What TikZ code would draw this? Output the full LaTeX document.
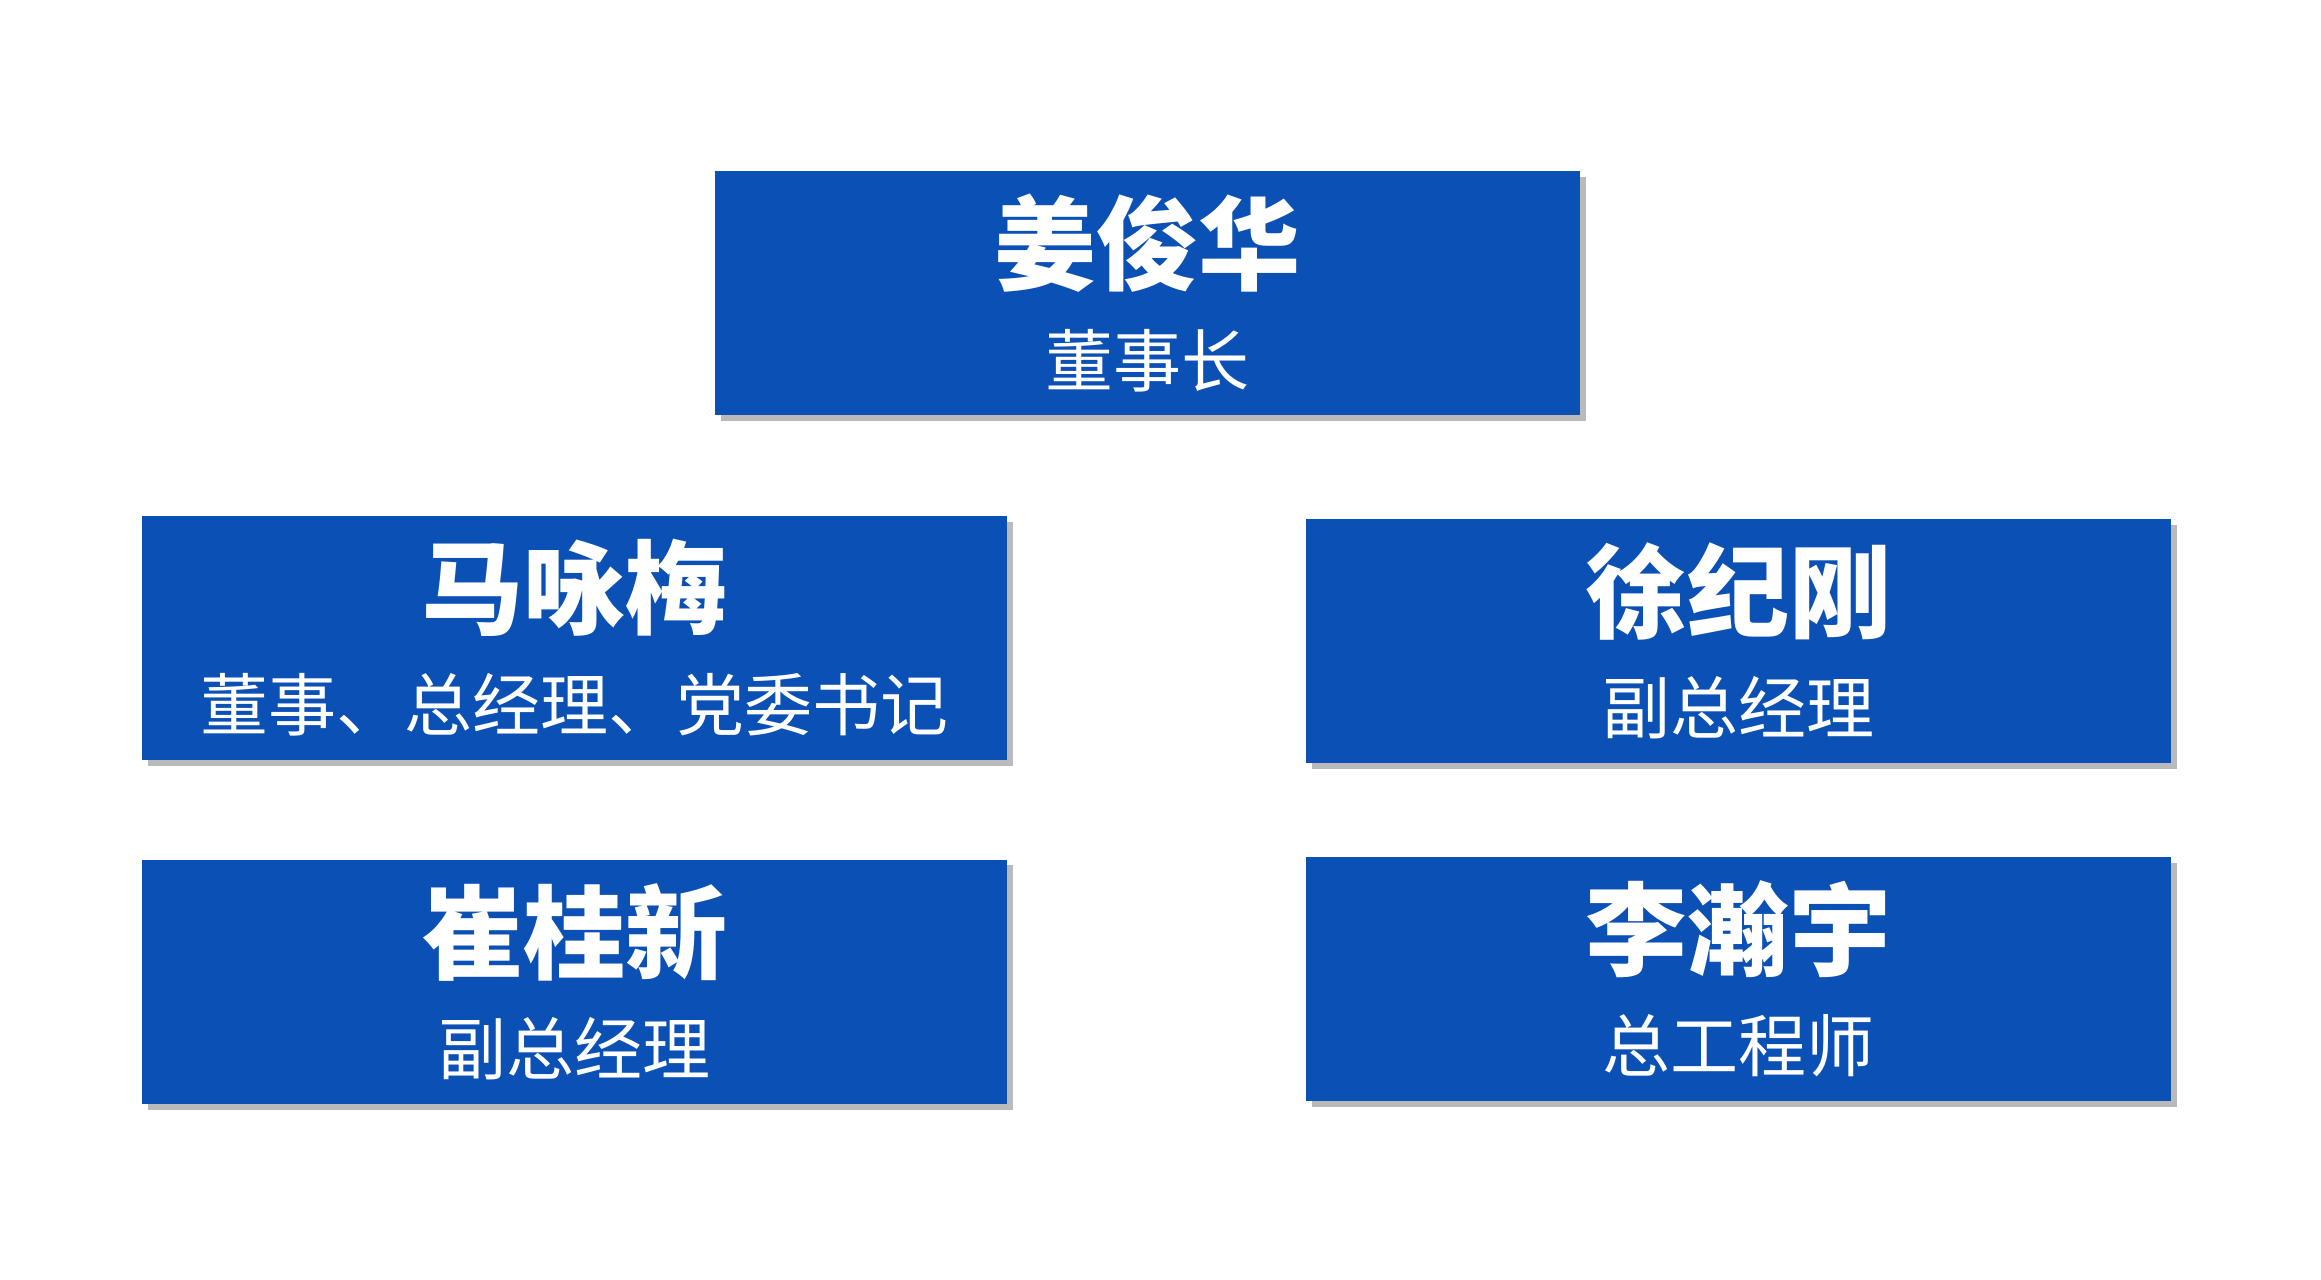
\documentclass[tikz,border=0pt]{standalone}
\usepackage{fontspec}
\newfontfamily\cjk{Noto Sans CJK SC}
\usetikzlibrary{shadows}
\definecolor{boxblue}{HTML}{0B50B4}
\tikzset{
 person/.style={fill=boxblue, draw=none, minimum width=5.81cm, minimum height=1.64cm, inner sep=0pt, anchor=north west,
   drop shadow={shadow xshift=0.04cm, shadow yshift=-0.04cm, fill=black!45, opacity=0.6},
   text=white, align=center, font=\cjk},
}
\newcommand{\pname}[1]{{\fontsize{19.5pt}{24pt}\selectfont\bfseries #1}}
\newcommand{\prole}[1]{{\fontsize{13pt}{16pt}\selectfont #1}}
\begin{document}
\begin{tikzpicture}[x=0.01cm,y=-0.01cm]
\useasboundingbox[fill=white] (0,0) rectangle (1560,860);
\node[person] (top) at (480,114) {\pname{姜俊华}\\[6pt]\prole{董事长}};
\node[person] (ma) at (95,346) {\pname{马咏梅}\\[6pt]\prole{董事、总经理、党委书记}};
\node[person] (xu) at (877,348) {\pname{徐纪刚}\\[6pt]\prole{副总经理}};
\node[person] (cui) at (95,577) {\pname{崔桂新}\\[6pt]\prole{副总经理}};
\node[person] (li) at (877,575) {\pname{李瀚宇}\\[6pt]\prole{总工程师}};
\end{tikzpicture}
\end{document}
